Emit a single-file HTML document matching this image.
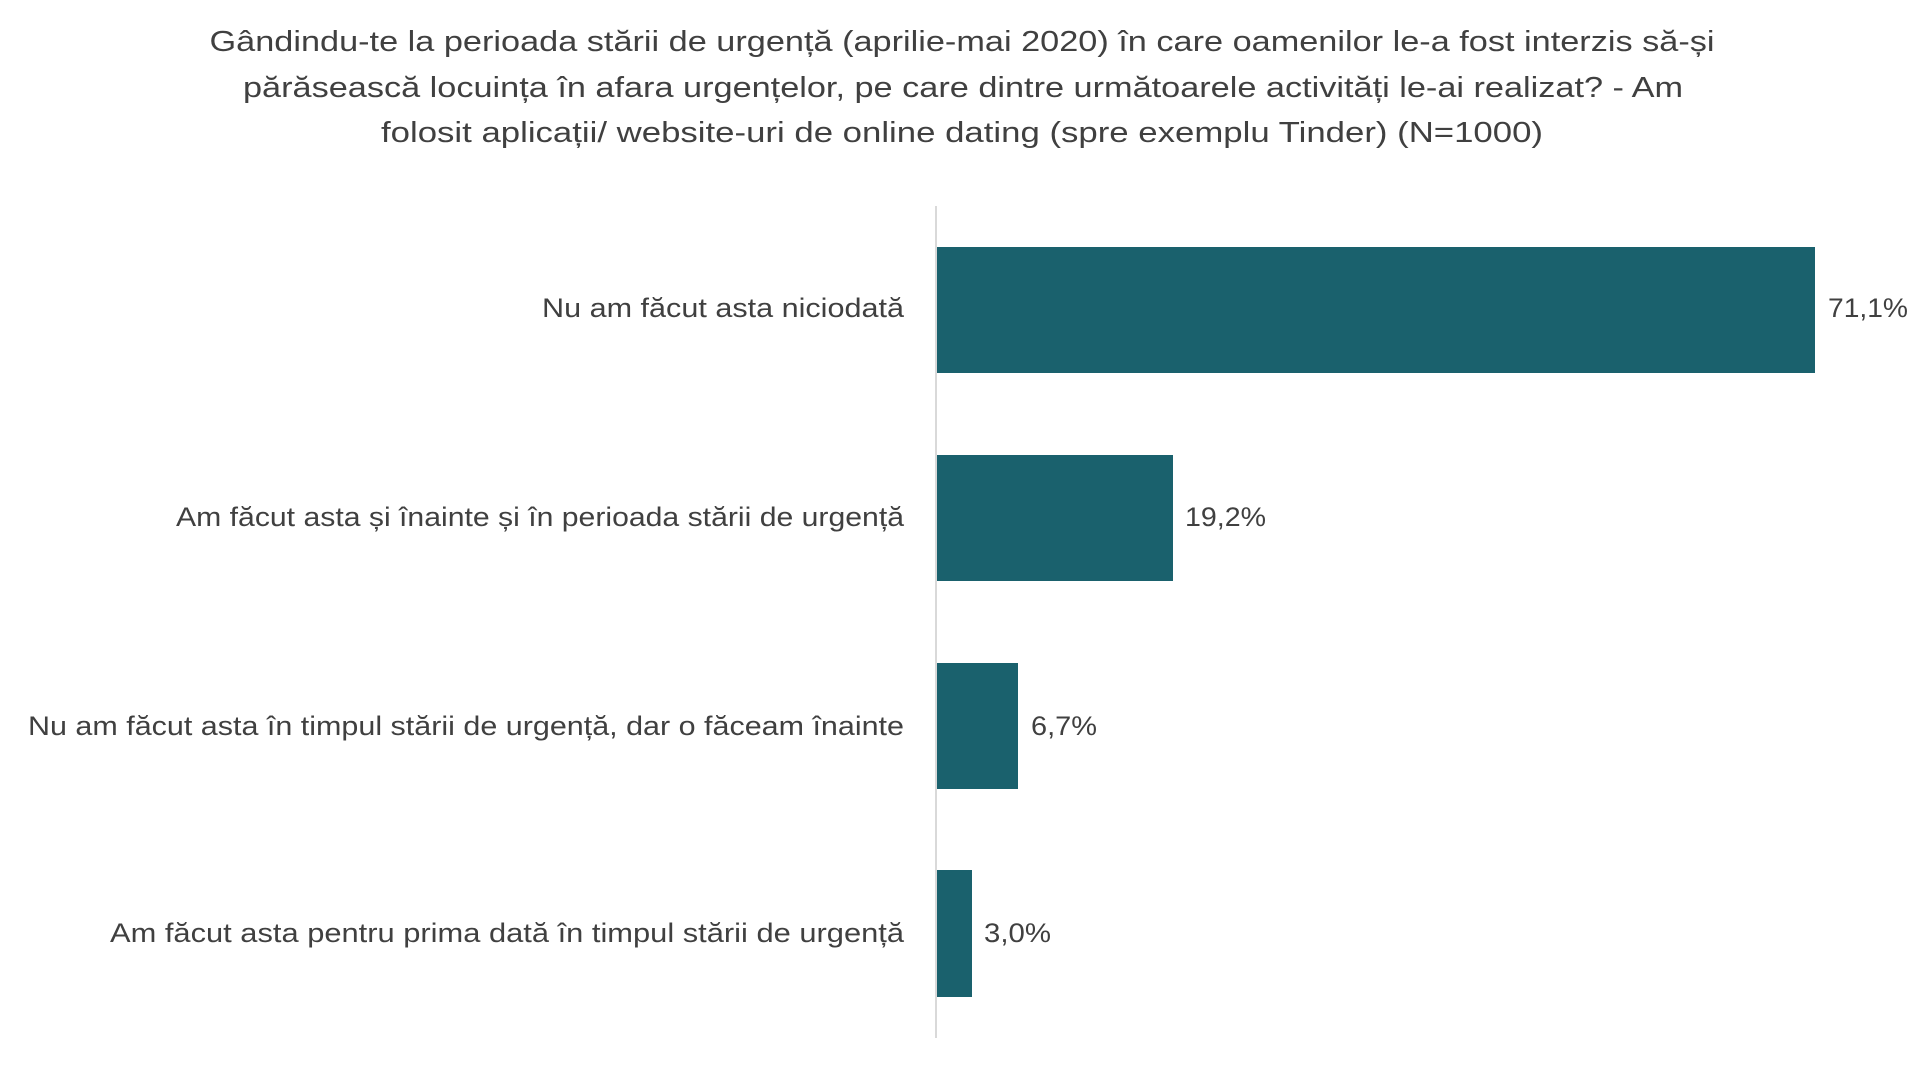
<!DOCTYPE html>
<html><head><meta charset="utf-8"><style>
html,body{margin:0;padding:0;background:#fff;}
svg{display:block;}
text{font-family:"Liberation Sans",sans-serif;fill:#404040;}
</style></head><body>
<svg width="1927" height="1066" viewBox="0 0 1927 1066" xmlns="http://www.w3.org/2000/svg">
<g font-size="29" text-anchor="middle">
<text x="962" y="51" textLength="1505" lengthAdjust="spacingAndGlyphs">Gândindu-te la perioada stării de urgență (aprilie-mai 2020) în care oamenilor le-a fost interzis să-și</text>
<text x="963" y="97" textLength="1440" lengthAdjust="spacingAndGlyphs">părăsească locuința în afara urgențelor, pe care dintre următoarele activități le-ai realizat? - Am</text>
<text x="962" y="142" textLength="1162" lengthAdjust="spacingAndGlyphs">folosit aplicații/ website-uri de online dating (spre exemplu Tinder) (N=1000)</text>
</g>
<line x1="936" y1="206" x2="936" y2="1038" stroke="#d9d9d9" stroke-width="2"/>
<g fill="#1a616d">
<rect x="937" y="247" width="878" height="126"/>
<rect x="937" y="455" width="236" height="126"/>
<rect x="937" y="663" width="81" height="126"/>
<rect x="937" y="870" width="35" height="127"/>
</g>
<g font-size="27" text-anchor="end">
<text x="904" y="317" textLength="362" lengthAdjust="spacingAndGlyphs">Nu am făcut asta niciodată</text>
<text x="904" y="526" textLength="728" lengthAdjust="spacingAndGlyphs">Am făcut asta și înainte și în perioada stării de urgență</text>
<text x="904" y="735" textLength="876" lengthAdjust="spacingAndGlyphs">Nu am făcut asta în timpul stării de urgență, dar o făceam înainte</text>
<text x="904" y="942" textLength="794" lengthAdjust="spacingAndGlyphs">Am făcut asta pentru prima dată în timpul stării de urgență</text>
</g>
<g font-size="27">
<text x="1828" y="317" textLength="80" lengthAdjust="spacingAndGlyphs">71,1%</text>
<text x="1185" y="526" textLength="81" lengthAdjust="spacingAndGlyphs">19,2%</text>
<text x="1031" y="735" textLength="66" lengthAdjust="spacingAndGlyphs">6,7%</text>
<text x="984" y="942" textLength="67" lengthAdjust="spacingAndGlyphs">3,0%</text>
</g>
</svg>
</body></html>
